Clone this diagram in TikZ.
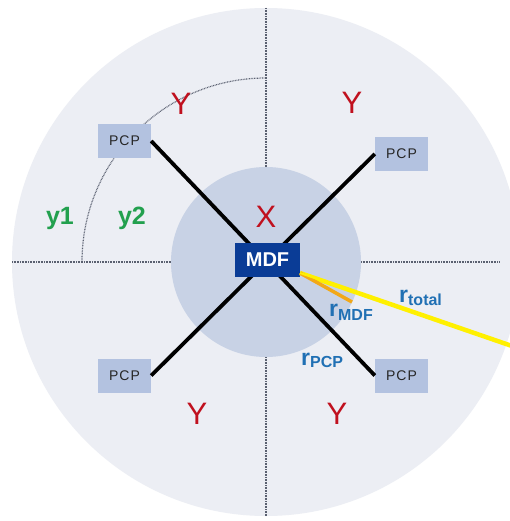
\documentclass[tikz,border=0pt]{standalone}
\usepackage{fontspec}
\setmainfont{Liberation Sans}
\usetikzlibrary{calc}
\definecolor{outerfill}{HTML}{ECEEF4}
\definecolor{innerfill}{HTML}{C8D2E5}
\definecolor{pcpfill}{HTML}{B3C2E0}
\definecolor{mdffill}{HTML}{0A3C96}
\definecolor{redtxt}{HTML}{C0101E}
\definecolor{greentxt}{HTML}{22A04E}
\definecolor{bluetxt}{HTML}{2070B4}
\definecolor{dotgray}{HTML}{5A6070}
\definecolor{yel}{HTML}{FFF000}
\definecolor{org}{HTML}{F2A818}
\begin{document}
\begin{tikzpicture}[x=1pt,y=-1pt,
  pcpbox/.style={fill=pcpfill, minimum width=53pt, minimum height=34pt, inner sep=0pt,
    font=\fontsize{14}{14}\selectfont, text=black!85},
  mdfbox/.style={fill=mdffill, minimum width=65pt, minimum height=34pt, inner sep=0pt,
    font=\fontsize{20}{20}\selectfont\bfseries, text=white},
  ylab/.style={text=redtxt, font=\fontsize{31}{31}\selectfont, inner sep=0pt},
  glab/.style={text=greentxt, font=\fontsize{25}{25}\selectfont\bfseries, inner sep=0pt},
  rlab/.style={text=bluetxt, font=\fontsize{23}{23}\selectfont\bfseries, inner sep=0pt, anchor=base west},
  guide/.style={draw=dotgray, line width=1.2pt, dash pattern=on 0.8pt off 0.8pt},
  wire/.style={draw=black, line width=3.8pt}]
\useasboundingbox (0,0) rectangle (510,521);
\begin{scope}
\clip (0,0) rectangle (510,521);
\fill[white] (0,0) rectangle (510,521);
\coordinate (c) at (266,262);
\fill[outerfill] (c) circle[radius=254];
% guides
\draw[guide] (12,262) -- (172,262);
\draw[guide] (361,262) -- (500,262);
\draw[guide] (266,8) -- (266,167);
\draw[guide] (266,357) -- (266,516);
\draw[guide] (266,78) arc[start angle=270, end angle=180, radius=184];
\fill[innerfill] (c) circle[radius=95];
% PCP nodes
\node[pcpbox] (pcptl) at (124.5,141) {P\kern1ptC\kern1ptP};
\node[pcpbox] (pcptr) at (401.5,154) {P\kern1ptC\kern1ptP};
\node[pcpbox] (pcpbl) at (124.5,375.5) {P\kern1ptC\kern1ptP};
\node[pcpbox] (pcpbr) at (401.5,375.5) {P\kern1ptC\kern1ptP};
\draw[wire] (pcptl.east) -- (pcpbr.west);
\draw[wire] (pcptr.west) -- (pcpbl.east);
\node[mdfbox] (mdf) at (267.5,260) {MDF};
% radius lines
\coordinate (rs) at (300,273);
\coordinate (rmdf) at (352,302);
\coordinate (rtot) at (512,346);
\draw[yel, line width=4.5pt] (rs) -- (rtot);
\draw[org, line width=3.5pt] (rs) -- (rmdf);
\draw[yel, line width=2pt] (rs) -- ($(rs)!0.25!(rtot)$);
% labels
\node[ylab] (y1) at (181,104) {Y};
\node[ylab] (y2) at (352,103) {Y};
\node[ylab] (y3) at (197,414) {Y};
\node[ylab] (y4) at (337,414) {Y};
\node[ylab] (x) at (266,217) {X};
\node[glab] (ga) at (60,218) {y1};
\node[glab] (gb) at (132,218) {y2};
\node[rlab] (lt) at (399,302) {r\raisebox{-3pt}{\fontsize{16}{16}\selectfont total}};
\node[rlab] (lm) at (329,316) {r\raisebox{-4pt}{\fontsize{16}{16}\selectfont MDF}};
\node[rlab] (lp) at (301,365) {r\raisebox{-2pt}{\fontsize{16}{16}\selectfont PCP}};
\end{scope}
\end{tikzpicture}
\end{document}
